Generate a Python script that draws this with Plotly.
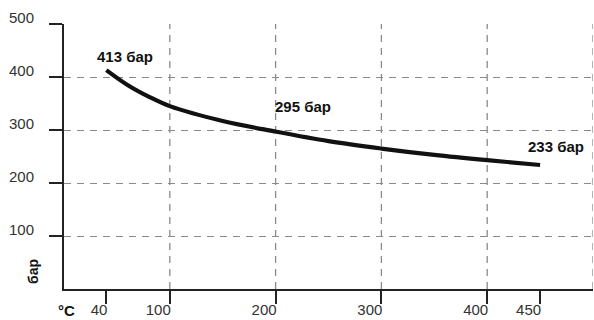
import plotly.graph_objects as go

temp_c = [40, 60, 80, 100, 150, 200, 250, 300, 350, 400, 450]
pressure_bar = [413, 385, 363, 345, 317, 297, 279, 265, 253, 243, 234]

x_ticks = [40, 100, 200, 300, 400, 450]
x_grid = [100, 200, 300, 400, 500]
y_ticks = [100, 200, 300, 400, 500]

labels = [(40, 413, "413 бар", 19, 14), (200, 297, "295 бар", 27, 25), (450, 234, "233 бар", 16, 18)]

FONT = "Liberation Sans, Arial, sans-serif"
GRID = "#8a8a8a"
AX = "#222222"

fig = go.Figure()
fig.add_trace(go.Scatter(x=temp_c, y=pressure_bar, mode="lines",
                         line=dict(color="#111111", width=4.2, shape="spline"),
                         hoverinfo="skip", showlegend=False))

for g in x_grid:
    fig.add_shape(type="line", xref="x", yref="y", x0=g, x1=g, y0=0, y1=500,
                  line=dict(color=GRID, width=1.3, dash="7px,6px"), layer="below")

for x, y, t, dx, dy in labels:
    fig.add_annotation(x=x, y=y, text="<b>%s</b>" % t, showarrow=False,
                       xanchor="center", yanchor="middle", xshift=dx, yshift=dy,
                       font=dict(family=FONT, size=15, color="#111111"))

fig.add_annotation(x=0, y=0, xref="x", yref="y", text="<b>°C</b>", showarrow=False,
                   xanchor="center", yanchor="middle", xshift=2, yshift=-21,
                   font=dict(family=FONT, size=15, color="#111111"))
fig.add_annotation(x=0, y=0, xref="x", yref="y", text="<b>бар</b>", showarrow=False,
                   textangle=-90, xanchor="center", yanchor="middle", xshift=-31, yshift=17,
                   font=dict(family=FONT, size=14, color="#111111"))

fig.update_layout(
    width=594, height=320,
    margin=dict(l=64, r=1, t=24, b=31, autoexpand=False),
    paper_bgcolor="white", plot_bgcolor="white",
    font=dict(family=FONT, size=15, color="#333333"),
    xaxis=dict(range=[0, 500], tickmode="array", tickvals=x_ticks,
               ticktext=[str(v) for v in x_ticks], automargin=False,
               ticks="outside", ticklen=13, tickwidth=2, tickcolor=AX,
               showgrid=False, zeroline=False, showline=True, linecolor=AX, linewidth=2,
               ticklabelposition="outside left", ticklabelstandoff=6, ticklabelshift=3,
               tickfont=dict(size=15, color="#333333")),
    yaxis=dict(range=[0, 500], tickmode="array", tickvals=y_ticks, automargin=False,
               ticks="outside", ticklen=13, tickwidth=2, tickcolor=AX,
               showgrid=True, gridcolor=GRID, gridwidth=1.3, griddash="7px,6px",
               zeroline=False, showline=True, linecolor=AX, linewidth=2,
               ticklabelshift=-6, ticklabelstandoff=12,
               tickfont=dict(size=15, color="#333333")),
)

fig.write_html("out.html", config={"displayModeBar": False},
               post_script="document.body.style.margin='0';document.body.style.overflow='hidden';")
